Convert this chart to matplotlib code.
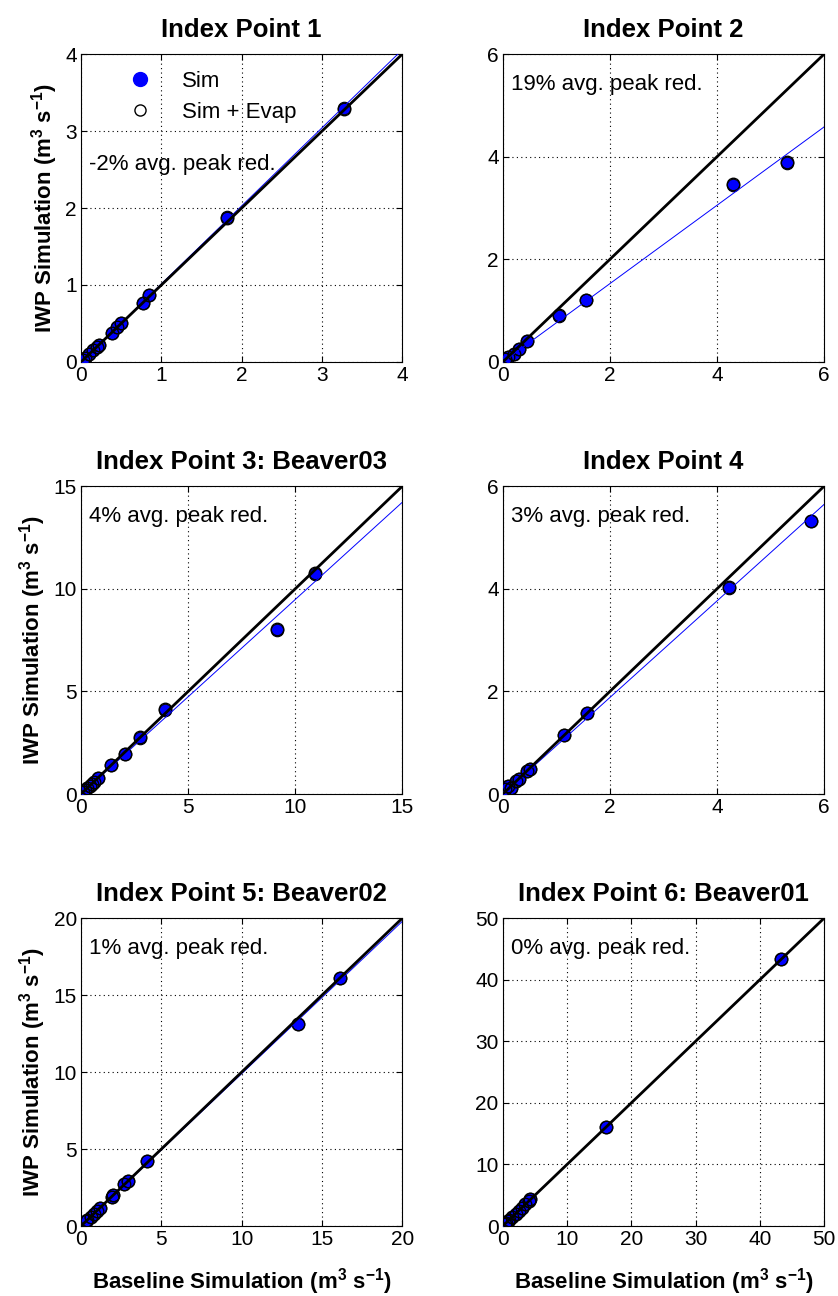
import numpy as np
import matplotlib
matplotlib.use("Agg")
import matplotlib.pyplot as plt
from matplotlib.lines import Line2D

plt.rcParams['font.family'] = ['Liberation Sans', 'DejaVu Sans']
plt.rcParams['mathtext.fontset'] = 'custom'
plt.rcParams['mathtext.rm'] = 'Liberation Sans'
plt.rcParams['mathtext.bf'] = 'Liberation Sans:bold'

# Peak flows per event (m3/s): baseline vs. IWP simulation, with and without evaporation
titles = ["Index Point 1", "Index Point 2", "Index Point 3: Beaver03",
          "Index Point 4", "Index Point 5: Beaver02", "Index Point 6: Beaver01"]
reductions = ["-2% avg. peak red.", "19% avg. peak red.", "4% avg. peak red.",
              "3% avg. peak red.", "1% avg. peak red.", "0% avg. peak red."]
axis_max = [4, 6, 15, 6, 20, 50]
tick_step = [1, 2, 5, 2, 5, 10]

base_1 = [0.02, 0.05, 0.10, 0.15, 0.20, 0.22, 0.38, 0.45, 0.50, 0.77, 0.85, 1.82, 3.27]
sim_1 = [0.02, 0.05, 0.10, 0.15, 0.20, 0.22, 0.38, 0.46, 0.50, 0.77, 0.87, 1.88, 3.30]
evap_1 = [0.02, 0.05, 0.10, 0.15, 0.20, 0.22, 0.38, 0.46, 0.50, 0.77, 0.87, 1.87, 3.29]

base_2 = [0.05, 0.10, 0.20, 0.30, 0.45, 1.05, 1.55, 4.30, 5.30]
sim_2 = [0.05, 0.10, 0.15, 0.25, 0.40, 0.90, 1.20, 3.45, 3.88]
evap_2 = [0.05, 0.10, 0.16, 0.26, 0.41, 0.91, 1.21, 3.47, 3.89]

base_3 = [0.10, 0.20, 0.30, 0.40, 0.50, 0.60, 0.80, 1.40, 2.05, 2.75, 3.90, 9.15, 10.90]
sim_3 = [0.10, 0.20, 0.30, 0.40, 0.50, 0.60, 0.80, 1.40, 1.95, 2.75, 4.10, 8.00, 10.70]
evap_3 = [0.10, 0.20, 0.30, 0.40, 0.50, 0.60, 0.80, 1.40, 1.95, 2.76, 4.12, 8.02, 10.75]

base_4 = [0.05, 0.10, 0.15, 0.25, 0.30, 0.45, 0.50, 1.15, 1.57, 4.22, 5.75]
sim_4 = [0.10, 0.15, 0.12, 0.25, 0.30, 0.45, 0.48, 1.15, 1.57, 4.02, 5.33]
evap_4 = [0.10, 0.15, 0.12, 0.25, 0.30, 0.45, 0.48, 1.16, 1.58, 4.03, 5.33]

base_5 = [0.30, 0.40, 0.60, 0.80, 1.00, 1.20, 1.90, 2.00, 2.70, 2.90, 4.10, 13.50, 16.10]
sim_5 = [0.30, 0.40, 0.60, 0.80, 1.00, 1.20, 1.90, 2.00, 2.70, 2.90, 4.20, 13.10, 16.10]
evap_5 = [0.30, 0.40, 0.60, 0.80, 1.00, 1.20, 1.90, 2.00, 2.70, 2.90, 4.20, 13.15, 16.10]

base_6 = [0.30, 0.50, 0.80, 1.00, 1.50, 2.00, 2.50, 3.00, 3.50, 4.00, 4.30, 16.00, 43.30]
sim_6 = [0.30, 0.50, 0.80, 1.00, 1.50, 2.00, 2.50, 3.00, 3.50, 4.00, 4.40, 16.00, 43.30]
evap_6 = [0.30, 0.50, 0.80, 1.00, 1.50, 2.00, 2.50, 3.00, 3.50, 4.00, 4.40, 16.00, 43.30]

bases = [base_1, base_2, base_3, base_4, base_5, base_6]
sims = [sim_1, sim_2, sim_3, sim_4, sim_5, sim_6]
evaps = [evap_1, evap_2, evap_3, evap_4, evap_5, evap_6]

fig = plt.figure(figsize=(8.38, 12.96), dpi=100)

col_left = [0.0967, 0.600]
ax_w = 0.3835
row_bottom = [0.7207, 0.3873, 0.0540]
ax_h = 0.2376

ylab = r"IWP Simulation (m$^{\mathbf{3}}$ s$^{\mathbf{-1}}$)"
xlab = r"Baseline Simulation (m$^{\mathbf{3}}$ s$^{\mathbf{-1}}$)"

for i in range(6):
    r, c = divmod(i, 2)
    ax = fig.add_axes([col_left[c], row_bottom[r], ax_w, ax_h])
    x = np.array(bases[i])
    y = np.array(sims[i])
    ye = np.array(evaps[i])
    m = axis_max[i]

    ax.plot(x, y, 'o', color='blue', markersize=9, markeredgecolor='black',
            markeredgewidth=0.8, zorder=3)
    ax.plot(x, ye, 'o', markerfacecolor='none', markeredgecolor='black',
            markersize=9, markeredgewidth=1.0, zorder=4)

    # least-squares fit through the origin for the Sim peaks
    slope = np.sum(x * y) / np.sum(x * x)
    xx = np.array([0, m])
    ax.plot(xx, slope * xx, color='blue', linewidth=0.7, zorder=5)
    ax.plot(xx, xx, color='black', linewidth=2.0, zorder=6)

    ax.set_xlim(0, m)
    ax.set_ylim(0, m)
    ticks = np.arange(0, m + tick_step[i] / 2, tick_step[i])
    ax.set_xticks(ticks)
    ax.set_yticks(ticks)
    ax.set_xticklabels([f"{t:g}" for t in ticks])
    ax.set_yticklabels([f"{t:g}" for t in ticks])
    ax.tick_params(direction='in', top=True, right=True, labelsize=15,
                   length=4, width=0.8, pad=3)
    ax.grid(True, linestyle=(0, (1, 3)), color='black', linewidth=0.8)
    for s in ax.spines.values():
        s.set_linewidth(0.8)

    ax.set_title(titles[i], fontsize=18.5, fontweight='bold', pad=12)
    ty = 0.64 if i == 0 else 0.90
    ax.text(0.025, ty, reductions[i], transform=ax.transAxes, fontsize=16,
            ha='left', va='center', zorder=7)

    if c == 0:
        ax.set_ylabel(ylab, fontsize=16, fontweight='bold', labelpad=4)
    if r == 2:
        ax.set_xlabel(xlab, fontsize=16, fontweight='bold', labelpad=12)

    if i == 0:
        handles = [
            Line2D([], [], marker='o', linestyle='none', color='blue',
                   markersize=10, markeredgecolor='blue'),
            Line2D([], [], marker='o', linestyle='none', markerfacecolor='none',
                   markeredgecolor='black', markersize=8, markeredgewidth=1.0),
        ]
        ax.legend(handles, ["Sim", "Sim + Evap"], loc='upper left',
                  bbox_to_anchor=(0.065, 0.995), frameon=False, fontsize=16,
                  handletextpad=0.9, labelspacing=0.45, borderaxespad=0.3)

fig.savefig("out.png", dpi=100, facecolor='white')
